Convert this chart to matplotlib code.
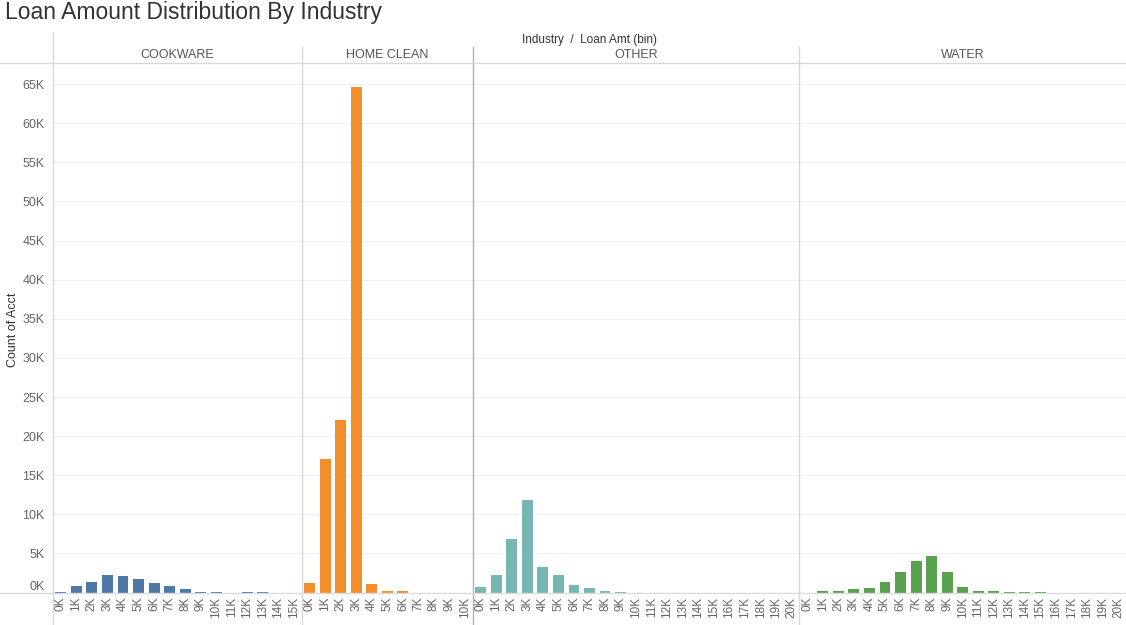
import matplotlib
matplotlib.use("Agg")
import matplotlib.pyplot as plt
from matplotlib.lines import Line2D

plt.rcParams['font.family'] = ['Liberation Sans', 'DejaVu Sans']

industries = ["COOKWARE", "HOME CLEAN", "OTHER", "WATER"]
colors = ["#4E79A7", "#F28E2B", "#76B7B2", "#59A14F"]

cookware_bins = [f"{i}K" for i in range(16)]
home_clean_bins = [f"{i}K" for i in range(11)]
other_bins = [f"{i}K" for i in range(21)]
water_bins = [f"{i}K" for i in range(21)]

cookware = [80, 900, 1400, 2300, 2100, 1800, 1200, 900, 400, 100, 80, 0, 50, 50, 0, 0]
home_clean = [1200, 17100, 22000, 64600, 1100, 150, 150, 0, 0, 0, 0]
other = [700, 2300, 6900, 11800, 3300, 2300, 1000, 550, 200, 80, 0,
         0, 0, 0, 0, 0, 0, 0, 0, 0, 0]
water = [0, 250, 250, 450, 550, 1350, 2650, 4100, 4700, 2650, 700,
         250, 150, 50, 50, 50, 0, 0, 0, 0, 0]

bins_list = [cookware_bins, home_clean_bins, other_bins, water_bins]
values_list = [cookware, home_clean, other, water]

yticks = list(range(0, 65001, 5000))
ytick_labels = [f"{v // 1000}K" for v in yticks]
ymax = 67700

W, H = 1126, 625
fig = plt.figure(figsize=(W / 100, H / 100), dpi=100)

left_px, right_px = 53, 1126
top_px, base_px = 63, 592.6
total_bins = sum(len(b) for b in bins_list)
per_bin = (right_px - left_px) / total_bins

def fx(px):
    return px / W

def fy(py):
    return 1 - py / H

grid_c = "#f0f0f0"
label_c = "#666666"

x0 = left_px
axes = []
for idx, (name, bins, vals, col) in enumerate(zip(industries, bins_list, values_list, colors)):
    w = per_bin * len(bins)
    ax = fig.add_axes([fx(x0), fy(base_px), fx(w), (base_px - top_px) / H])
    xs = list(range(len(bins)))
    ax.bar(xs, vals, width=0.7, color=col, zorder=3)
    ax.set_xlim(-0.5, len(bins) - 0.5)
    ax.set_ylim(0, ymax)
    ax.set_xticks(xs)
    ax.set_xticklabels(bins, rotation=90, fontsize=8.5, color=label_c)
    ax.set_yticks(yticks)
    for y in yticks:
        ax.axhline(y, color=grid_c, lw=0.8, zorder=0)
    ax.tick_params(axis='both', length=0, pad=3)
    for s in ax.spines.values():
        s.set_visible(False)
    if idx == 0:
        ax.set_yticklabels(ytick_labels, fontsize=9, color=label_c)
        ax.tick_params(axis='y', pad=6)
        lbls = ax.get_yticklabels()
        lbls[0].set_verticalalignment('bottom')
    else:
        ax.set_yticklabels([])
    fig.text(fx(x0 + w / 2), fy(55), name, ha='center', va='center',
             fontsize=9, color="#555555")
    axes.append(ax)
    x0 += w

fig.text(fx(13), fy(330), "Count of Acct", rotation=90, ha='center', va='center',
         fontsize=9, color="#333333")

# separators and frame lines
sep_positions = []
x0 = left_px
for bins in bins_list[:-1]:
    x0 += per_bin * len(bins)
    sep_positions.append(x0)
sep_colors = ["#d8d8d8", "#b0b0b0", "#d8d8d8"]
for sx, sc in zip(sep_positions, sep_colors):
    fig.add_artist(Line2D([fx(sx), fx(sx)], [fy(47), fy(625)], color=sc, lw=1))
fig.add_artist(Line2D([fx(left_px), fx(left_px)], [fy(32), fy(625)], color="#d8d8d8", lw=1))
fig.add_artist(Line2D([0, 1], [fy(63), fy(63)], color="#d8d8d8", lw=1))
fig.add_artist(Line2D([0, 1], [fy(base_px), fy(base_px)], color="#dcdcdc", lw=1, zorder=5))

fig.text(fx(590), fy(40), "Industry  /  Loan Amt (bin)", ha='center', va='center',
         fontsize=8.5, color="#333333")
fig.text(fx(5), fy(13), "Loan Amount Distribution By Industry", ha='left', va='center',
         fontsize=16.5, color="#333333")

fig.savefig("out.png", dpi=100)
